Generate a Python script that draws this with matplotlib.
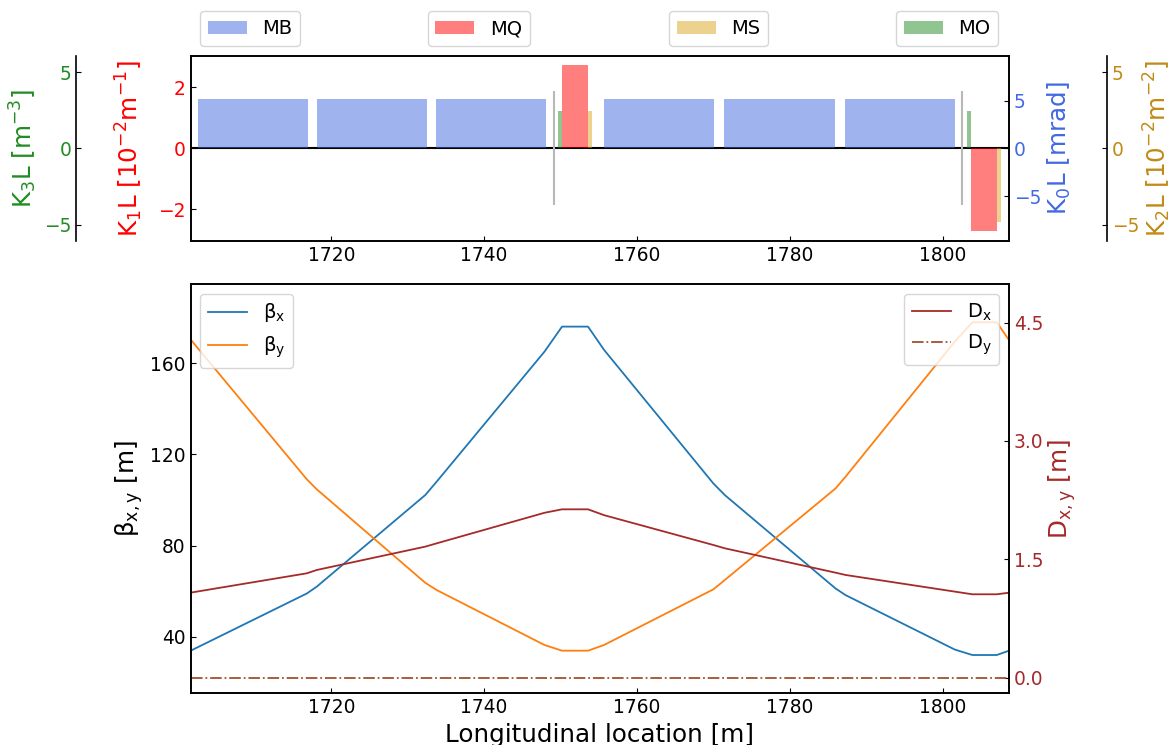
import matplotlib
matplotlib.use("Agg")
import matplotlib.pyplot as plt
from matplotlib.ticker import FormatStrFormatter

# ---------------- data ----------------
xlim = [1701.6, 1808.7]

mb_start = [1702.5, 1718.1, 1733.7, 1755.7, 1771.4, 1787.2]
mb_end = [1716.9, 1732.5, 1748.1, 1770.1, 1785.9, 1801.6]
mb_k0l = [5.15, 5.15, 5.15, 5.15, 5.15, 5.15]          # mrad

mq_start = [1750.2, 1803.7]
mq_end = [1753.6, 1807.1]
mq_k1l = [2.75, -2.71]                                 # 1e-2 m^-1

ms_start = [1753.6, 1807.1]
ms_end = [1754.1, 1807.7]
ms_k2l = [2.44, -4.8]                                  # 1e-2 m^-2

mo_start = [1749.7, 1803.15]
mo_end = [1750.2, 1803.7]
mo_k3l = [2.44, 2.44]                                  # m^-3

marker_s = [1749.15, 1802.6]
marker_half = [1.87, 1.87]

s_opt = [1701.6, 1716.8, 1718.1, 1732.3, 1733.8, 1747.9, 1750.2, 1753.6,
         1755.7, 1770.0, 1771.5, 1786.0, 1787.3, 1801.6, 1803.9, 1807.1, 1808.7]
beta_x = [33.9, 59.0, 62.0, 102.2, 108.1, 165.1, 176.1, 176.1,
          165.9, 107.3, 102.2, 61.2, 58.3, 34.4, 32.0, 32.0, 33.9]
beta_y = [170.4, 109.1, 104.7, 63.7, 60.5, 36.4, 33.9, 33.9,
          36.4, 60.8, 64.9, 105.1, 110.2, 169.5, 178.0, 178.0, 170.2]
disp_x = [1.078, 1.323, 1.365, 1.661, 1.703, 2.09, 2.134, 2.134,
          2.06, 1.682, 1.64, 1.331, 1.302, 1.091, 1.057, 1.057, 1.077]
s_dy = [1701.6, 1808.7]
disp_y = [0.0, 0.0]

xticks = [1720, 1740, 1760, 1780, 1800]

# ---------------- style ----------------
TICK = 13.4
LAB = 17.7
LEG = 14
plt.rcParams['font.family'] = ['DejaVu Sans']
plt.rcParams['axes.linewidth'] = 1.2

W, H = 1173, 745
fig = plt.figure(figsize=(W / 100, H / 100), dpi=100)

L, R = 190.7, 1009.0
ax1 = fig.add_axes([L / W, 1 - 240.7 / H, (R - L) / W, (240.7 - 56.0) / H])
axb = fig.add_axes([L / W, 1 - 693.3 / H, (R - L) / W, (693.3 - 284.0) / H], sharex=ax1)

c_k0, c_k1, c_k2, c_k3 = 'royalblue', 'red', '#c08a14', 'forestgreen'

# K1L main (left), K0L (right), K3L (left, outward), K2L (right, outward)
ax0 = ax1.twinx()
ax3 = ax1.twinx()
ax2 = ax1.twinx()

ax3.yaxis.set_ticks_position('left')
ax3.yaxis.set_label_position('left')
for sp in ['top', 'bottom', 'right']:
    ax3.spines[sp].set_visible(False)
ax3.spines['left'].set_visible(True)
ax3.spines['left'].set_position(('outward', (L - 76.0) * 0.72))

for sp in ['top', 'bottom', 'left']:
    ax2.spines[sp].set_visible(False)
ax2.spines['right'].set_position(('outward', (1106.7 - R) * 0.72))

ax1.axhline(0, color='black', lw=1.5, zorder=0)

mb_w = [e - s for s, e in zip(mb_start, mb_end)]
mq_w = [e - s for s, e in zip(mq_start, mq_end)]
ms_w = [e - s for s, e in zip(ms_start, ms_end)]
mo_w = [e - s for s, e in zip(mo_start, mo_end)]

ax1.vlines(marker_s, [-h for h in marker_half], marker_half, color='0.72', lw=1.5)
h_mb = ax0.bar(mb_start, mb_k0l, width=mb_w, align='edge', color='royalblue', alpha=0.5, lw=0)
h_mq = ax1.bar(mq_start, mq_k1l, width=mq_w, align='edge', color='red', alpha=0.5, lw=0)
h_ms = ax2.bar(ms_start, ms_k2l, width=ms_w, align='edge', color='goldenrod', alpha=0.5, lw=0)
h_mo = ax3.bar(mo_start, mo_k3l, width=mo_w, align='edge', color='forestgreen', alpha=0.5, lw=0)

ax1.set_ylim(-3.03, 3.03)
ax0.set_ylim(-9.65, 9.65)
ax2.set_ylim(-6.05, 6.05)
ax3.set_ylim(-6.05, 6.05)
ax1.set_yticks([-2, 0, 2])
for a in (ax0, ax2, ax3):
    a.set_yticks([-5, 0, 5])

ax1.set_ylabel('K$_1$L [10$^{-2}$m$^{-1}$]', color=c_k1, fontsize=LAB)
ax0.set_ylabel('K$_0$L [mrad]', color=c_k0, fontsize=LAB)
ax2.set_ylabel('K$_2$L [10$^{-2}$m$^{-2}$]', color=c_k2, fontsize=LAB)
ax3.set_ylabel('K$_3$L [m$^{-3}$]', color=c_k3, fontsize=LAB)
ax1.yaxis.set_label_coords(-0.0558, 0.5)
ax3.yaxis.set_label_coords(-0.1854, 0.5)
ax0.yaxis.set_label_coords(1.0452, 0.5)
ax2.yaxis.set_label_coords(1.1615, 0.5)

for a, c in ((ax1, c_k1), (ax0, c_k0), (ax2, c_k2), (ax3, c_k3)):
    a.tick_params(axis='y', direction='in', labelcolor=c, labelsize=TICK)
ax1.tick_params(axis='x', direction='in', labelsize=TICK)

legs = [(ax0, h_mb, 'MB', 250.0), (ax1, h_mq, 'MQ', 478.7),
        (ax2, h_ms, 'MS', 718.5), (ax3, h_mo, 'MO', 947.0)]
for a, h, lab, cx in legs:
    a.legend([h], [lab], loc='center', bbox_to_anchor=(cx / W, 1 - 28.7 / H),
             bbox_transform=fig.transFigure, fontsize=LEG)

ax1.set_xlim(*xlim)
ax1.set_xticks(xticks)

# ---------------- bottom panel ----------------
axd = axb.twinx()
lbx, = axb.plot(s_opt, beta_x, color='#1f77b4', lw=1.3, label='β$_\\mathrm{x}$')
lby, = axb.plot(s_opt, beta_y, color='#ff7f0e', lw=1.3, label='β$_\\mathrm{y}$')
ldx, = axd.plot(s_opt, disp_x, color='brown', lw=1.3, label='D$_\\mathrm{x}$')
ldy, = axd.plot(s_dy, disp_y, color='sienna', lw=1.3, ls='-.', label='D$_\\mathrm{y}$')

axb.set_ylim(15.2, 194.8)
axd.set_ylim(-0.198, 4.99)
axb.set_yticks([40, 80, 120, 160])
axd.set_yticks([0.0, 1.5, 3.0, 4.5])
axd.yaxis.set_major_formatter(FormatStrFormatter('%.1f'))

axb.set_ylabel('β$_{\\mathrm{x,y}}$ [m]', fontsize=LAB)
axd.set_ylabel('D$_{\\mathrm{x,y}}$ [m]', color='brown', fontsize=LAB)
axb.yaxis.set_label_coords(-0.0558, 0.5)
axd.yaxis.set_label_coords(1.0452, 0.5)
axb.set_xlabel('Longitudinal location [m]', fontsize=LAB)

axb.tick_params(axis='both', direction='in', labelsize=TICK)
axd.tick_params(axis='y', direction='in', labelsize=TICK, labelcolor='brown')

axb.legend(handles=[lbx, lby], loc='upper left', fontsize=LEG)
axd.legend(handles=[ldx, ldy], loc='upper right', fontsize=LEG)

axb.set_xlim(*xlim)
axb.set_xticks(xticks)

fig.savefig('out.png', dpi=100)
